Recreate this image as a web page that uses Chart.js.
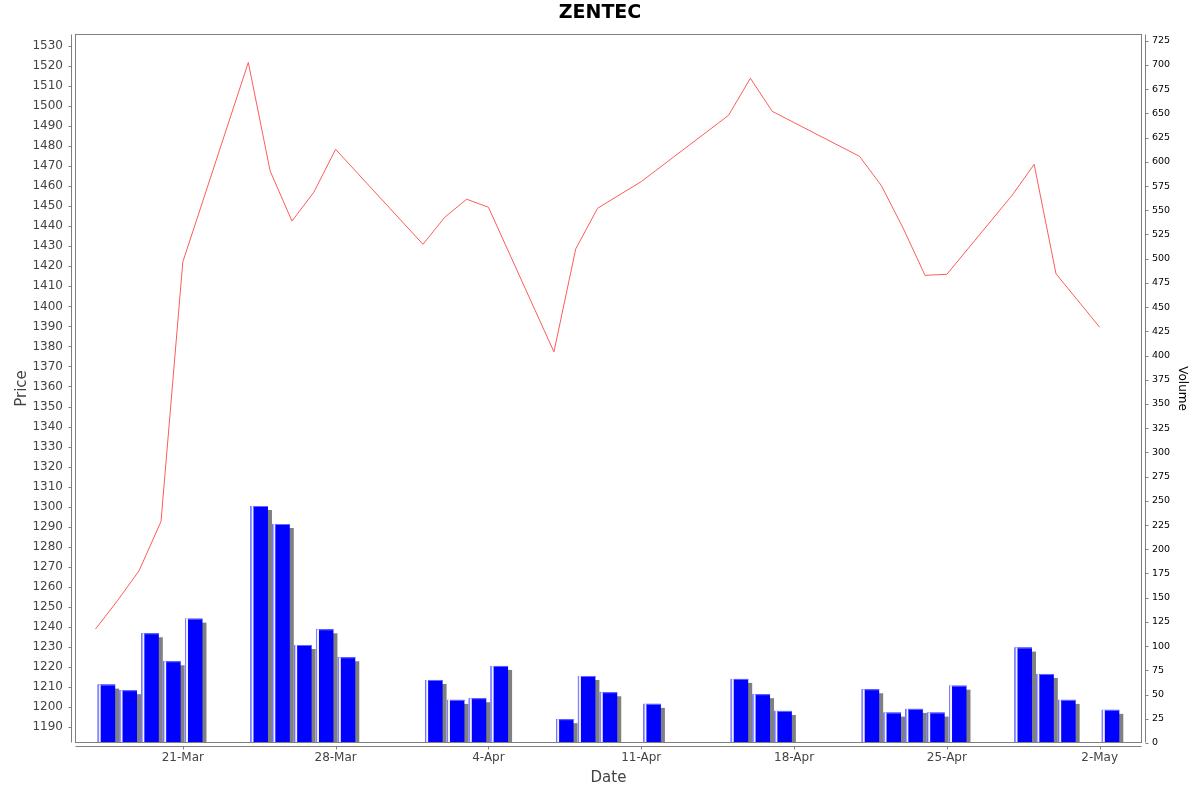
<!DOCTYPE html>
<html><head><meta charset="utf-8">
<script src="https://cdn.jsdelivr.net/npm/chart.js@4.4.1/dist/chart.umd.min.js"></script>
<style>html,body{margin:0;padding:0;background:#fff}</style>
</head><body>
<canvas id="c" width="1200" height="792"></canvas>
<script>
const chartTitle = 'ZENTEC';
const dates = ['2014-03-17','2014-03-18','2014-03-19','2014-03-20','2014-03-21',
  '2014-03-24','2014-03-25','2014-03-26','2014-03-27','2014-03-28',
  '2014-04-01','2014-04-02','2014-04-03','2014-04-04',
  '2014-04-07','2014-04-08','2014-04-09','2014-04-11',
  '2014-04-15','2014-04-16','2014-04-17',
  '2014-04-21','2014-04-22','2014-04-23','2014-04-24','2014-04-25',
  '2014-04-28','2014-04-29','2014-04-30','2014-05-02'];
const prices = [1238.9,1253.0,1268.1,1292.6,1422.2,
  1521.8,1467.6,1442.6,1457.0,1478.4,
  1431.0,1444.5,1453.5,1449.5,
  1377.3,1428.7,1449.0,1462.3,
  1495.4,1513.9,1497.4,
  1474.9,1460.3,1439.0,1415.5,1416.0,
  1455.6,1470.9,1416.3,1389.6];
const volumes = [60.3,54.5,113.3,84.4,128.4,
  244.7,226.1,101.2,117.4,88.5,
  65.1,44.5,46.2,79.6,
  24.6,69.2,52.4,40.4,
  66.2,50.4,33.1,
  55.5,31.4,35.2,31.4,59.2,
  98.5,71.3,44.5,34.2];
const tickDates = ['2014-03-21','2014-03-28','2014-04-04','2014-04-11','2014-04-18','2014-04-25','2014-05-02'];
const tickLabels = ['21-Mar','28-Mar','4-Apr','11-Apr','18-Apr','25-Apr','2-May'];
const priceMin = 1182, priceMax = 1536, priceStep = 10;
const volMin = 0, volMax = 732, volStep = 25;

const FONT = 'DejaVu Sans';
const DAY = 86400000;
const dayNum = s => { const p = s.split('-').map(Number); return Date.UTC(p[0], p[1]-1, p[2]) / DAY; };
const days = dates.map(dayNum);
const tickDays = tickDates.map(dayNum);
const xMin = days[0] - 0.94, xMax = days[days.length-1] + 1 + 0.94;

const decor = {
  id: 'decor',
  beforeDatasetDraw(chart, args) {
    if (args.meta.type !== 'bar') return;
    const ctx = chart.ctx, a = chart.chartArea;
    ctx.save();
    ctx.beginPath(); ctx.rect(a.left, a.top, a.right - a.left, a.bottom - a.top); ctx.clip();
    ctx.fillStyle = '#808080';
    args.meta.data.forEach(b => {
      const p = b.getProps(['x','y','base','width'], true);
      const l = p.x - p.width / 2;
      ctx.fillRect(l + 4, p.y + 4, p.width, p.base - p.y - 4);
    });
    ctx.restore();
  },
  afterDatasetDraw(chart, args) {
    if (args.meta.type !== 'bar') return;
    const ctx = chart.ctx;
    ctx.save();
    args.meta.data.forEach(b => {
      const p = b.getProps(['x','y','base','width'], true);
      const l = p.x - p.width / 2;
      const h = p.base - p.y;
      ctx.fillStyle = '#8080ff';
      ctx.fillRect(l, p.y, 1, h);
      ctx.fillStyle = '#f0f0ff';
      ctx.fillRect(l + 1, p.y, 2, h);
      ctx.fillStyle = '#6a6aff';
      ctx.fillRect(l + 3, p.y, p.width - 3, 1);
    });
    ctx.restore();
  },
  afterDraw(chart) {
    const ctx = chart.ctx, a = chart.chartArea;
    const L = Math.round(a.left) + 0.5, R = Math.round(a.right) - 0.5;
    const T = Math.round(a.top) + 0.5, B = Math.round(a.bottom) - 0.5;
    ctx.save();
    ctx.strokeStyle = '#808080';
    ctx.lineWidth = 1;
    ctx.strokeRect(L, T, R - L, B - T);
    ctx.beginPath();
    ctx.moveTo(L - 4, T); ctx.lineTo(L - 4, B);
    chart.scales.y.ticks.forEach(t => {
      const py = Math.round(chart.scales.y.getPixelForValue(t.value)) + 0.5;
      ctx.moveTo(L - 4, py); ctx.lineTo(L - 7, py);
    });
    ctx.moveTo(R + 4, T); ctx.lineTo(R + 4, B);
    chart.scales.y1.ticks.forEach(t => {
      const py = Math.round(chart.scales.y1.getPixelForValue(t.value)) + 0.5;
      ctx.moveTo(R + 4, py); ctx.lineTo(R + 7, py);
    });
    ctx.moveTo(L, B + 4); ctx.lineTo(R, B + 4);
    chart.scales.x.ticks.forEach(t => {
      const px = Math.round(chart.scales.x.getPixelForValue(t.value)) + 0.5;
      ctx.moveTo(px, B + 4); ctx.lineTo(px, B + 7);
    });
    ctx.stroke();
    ctx.restore();
  }
};

new Chart(document.getElementById('c'), {
  type: 'bar',
  data: {
    datasets: [
      {
        type: 'line', label: 'Price', yAxisID: 'y', order: 0,
        data: days.map((d, i) => ({ x: d, y: prices[i] })),
        borderColor: '#ff5a5a', borderWidth: 1, pointRadius: 0, tension: 0, fill: false
      },
      {
        type: 'bar', label: 'Volume', yAxisID: 'y1', order: 1,
        data: days.map((d, i) => ({ x: d + 0.5, y: volumes[i] })),
        backgroundColor: '#0000ff', borderWidth: 0,
        barPercentage: 0.8, categoryPercentage: 1.0
      }
    ]
  },
  options: {
    responsive: false, animation: false, devicePixelRatio: 1,
    layout: { padding: 0 },
    plugins: {
      legend: { display: false }, tooltip: { enabled: false },
      title: {
        display: true, text: chartTitle, color: '#000',
        font: { family: FONT, size: 19, weight: 'bold' },
        padding: { top: 1.6, bottom: 9.6 }
      }
    },
    scales: {
      x: {
        type: 'linear', position: 'bottom', min: xMin, max: xMax, offset: false,
        afterBuildTicks: s => { s.ticks = tickDays.map(v => ({ value: v })); },
        afterFit: s => { s.height = 49; },
        ticks: {
          autoSkip: false, maxRotation: 0, padding: 8, color: '#444',
          font: { family: FONT, size: 12 },
          callback: (v) => { const i = tickDays.indexOf(v); return i >= 0 ? tickLabels[i] : ''; }
        },
        grid: { display: false, drawTicks: false }, border: { display: false },
        title: { display: true, text: 'Date', color: '#444', font: { family: FONT, size: 15 }, padding: { top: 0, bottom: 5 } }
      },
      y: {
        type: 'linear', position: 'left', min: priceMin, max: priceMax,
        afterFit: s => { s.width = 75; },
        ticks: { stepSize: priceStep, includeBounds: false, autoSkip: false, padding: 12, color: '#444',
          font: { family: FONT, size: 12 }, callback: v => String(v) },
        grid: { display: false, drawTicks: false }, border: { display: false },
        title: { display: true, text: 'Price', color: '#444', font: { family: FONT, size: 15 }, padding: { top: 13, bottom: 0 } }
      },
      y1: {
        type: 'linear', position: 'right', min: volMin, max: volMax,
        afterFit: s => { s.width = 58; },
        ticks: { stepSize: volStep, includeBounds: false, autoSkip: false, padding: 10, color: '#000',
          font: { family: FONT, size: 9.5 }, callback: v => String(v) },
        grid: { display: false, drawTicks: false }, border: { display: false },
        title: { display: true, text: 'Volume', color: '#000', font: { family: FONT, size: 12 }, padding: { top: 10.8, bottom: 0 } }
      }
    }
  },
  plugins: [decor]
});
</script>
</body></html>
